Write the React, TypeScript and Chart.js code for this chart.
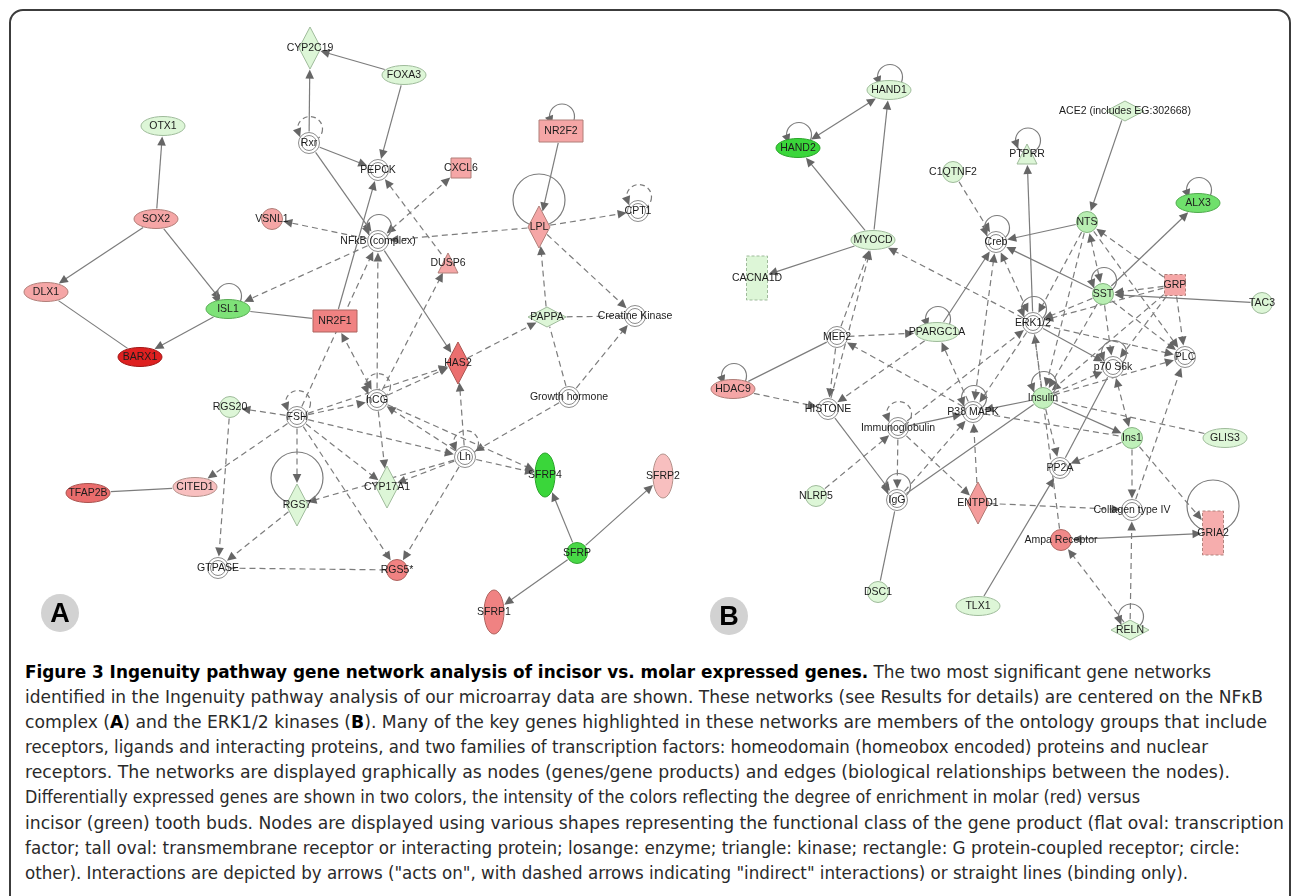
import React, { useEffect, useRef } from "react";
import { Chart, registerables } from "chart.js";

Chart.register(...registerables);

// ---------------- Panel A : network centred on the NFkB complex ----------------
const genesA = ["CYP2C19", "FOXA3", "Rxr", "OTX1", "PEPCK", "CXCL6", "NR2F2", "SOX2", "VSNL1", "NFkB (complex)", "LPL", "CPT1", "DUSP6", "DLX1", "ISL1", "NR2F1", "PAPPA", "Creatine Kinase", "BARX1", "HAS2", "hCG", "Growth hormone", "RGS20", "FSH", "Lh", "SFRP4", "SFRP2", "CYP17A1", "TFAP2B", "CITED1", "RGS7", "GTPASE", "RGS5*", "SFRP", "SFRP1"];
const xA = [310, 404, 309, 163, 378, 461, 561, 156, 272, 378, 539, 638, 448, 46, 228, 335, 547, 635, 140, 458, 377, 569, 230, 297, 465, 545, 663, 387, 88, 195, 297, 218, 397, 577, 494];
const yA = [48, 75, 143, 126, 170, 168, 131, 219, 219, 241, 227, 211, 263, 292, 309, 321, 317, 316, 357, 363, 400, 397, 407, 417, 457, 475, 476, 487, 493, 487, 505, 568, 570, 553, 612];
// functional class: tf = transcription factor, tm = transmembrane receptor, enz = enzyme, pep = peptidase,
// kin = kinase, nr = nuclear receptor, cyt = cytokine, gf = growth factor, ion = ion channel, oth = other
const classA = ["enz", "tf", "oth", "tf", "oth", "cyt", "nr", "tf", "oth", "oth", "enz", "oth", "kin", "tf", "tf", "nr", "pep", "oth", "tf", "enz", "oth", "oth", "oth", "oth", "oth", "tm", "tm", "enz", "tf", "tf", "enz", "oth", "oth", "oth", "tm"];
// enrichment: + molar (red), - incisor (green), 0 not differentially expressed
const exprA = [-1, -1, 0, -1, 0, 2, 2, 2, 2, 0, 2, 0, 2, 2, -3, 3, -1, 0, 5, 3.6, 0, 0, -1, 0, 0, -4, 1.3, -1, 3.7, 1.3, -1, 0, 3, -3.8, 3];
// A = acts on, L = binding, AA = mutual, D = indirect, DL = indirect line, DD = indirect mutual
const edgesA: [string, string, string][] = [
  ["SOX2", "OTX1", "A"], ["SOX2", "DLX1", "A"], ["SOX2", "ISL1", "A"], ["DLX1", "BARX1", "L"],
  ["ISL1", "BARX1", "A"], ["ISL1", "NR2F1", "L"], ["Rxr", "CYP2C19", "A"], ["FOXA3", "CYP2C19", "A"],
  ["FOXA3", "PEPCK", "A"], ["Rxr", "PEPCK", "A"], ["Rxr", "NFkB (complex)", "A"], ["NR2F1", "PEPCK", "A"],
  ["NFkB (complex)", "HAS2", "A"], ["NFkB (complex)", "VSNL1", "D"], ["NFkB (complex)", "ISL1", "D"],
  ["NFkB (complex)", "CXCL6", "DD"], ["DUSP6", "PEPCK", "D"], ["LPL", "NFkB (complex)", "D"],
  ["LPL", "CPT1", "D"], ["NR2F2", "LPL", "A"], ["LPL", "Creatine Kinase", "D"], ["PAPPA", "LPL", "D"],
  ["PAPPA", "Creatine Kinase", "DL"], ["Growth hormone", "Creatine Kinase", "D"], ["Growth hormone", "PAPPA", "DL"],
  ["Growth hormone", "Lh", "D"], ["HAS2", "PAPPA", "D"], ["hCG", "HAS2", "D"], ["FSH", "HAS2", "D"],
  ["hCG", "NFkB (complex)", "D"], ["hCG", "DUSP6", "D"], ["hCG", "NR2F1", "DD"], ["FSH", "NFkB (complex)", "D"],
  ["FSH", "hCG", "D"], ["FSH", "RGS20", "D"], ["FSH", "CITED1", "D"], ["FSH", "RGS7", "D"],
  ["FSH", "CYP17A1", "D"], ["FSH", "Lh", "D"], ["FSH", "RGS5*", "D"], ["RGS20", "GTPASE", "D"],
  ["RGS7", "GTPASE", "D"], ["GTPASE", "RGS5*", "DL"], ["TFAP2B", "CITED1", "L"], ["hCG", "CYP17A1", "D"],
  ["Lh", "hCG", "D"], ["hCG", "SFRP4", "D"], ["Lh", "HAS2", "D"], ["Lh", "CYP17A1", "D"],
  ["Lh", "SFRP4", "D"], ["Lh", "RGS5*", "D"], ["Lh", "RGS7", "D"], ["SFRP", "SFRP4", "A"],
  ["SFRP", "SFRP2", "A"], ["SFRP", "SFRP1", "A"],
];
// self interactions: s = solid, d = dashed, S = solid large
const loopsA: [string, string][] = [
  ["Rxr", "d"], ["CPT1", "d"], ["NFkB (complex)", "s"], ["NR2F2", "s"], ["LPL", "S"], ["ISL1", "s"],
  ["FSH", "d"], ["hCG", "d"], ["Lh", "d"], ["RGS7", "S"],
];

// ---------------- Panel B : network centred on the ERK1/2 kinases ----------------
const genesB = ["HAND1", "HAND2", "ACE2 (includes EG:302668)", "PTPRR", "C1QTNF2", "ALX3", "NTS", "Creb", "MYOCD", "CACNA1D", "GRP", "SST", "TAC3", "ERK1/2", "PPARGC1A", "MEF2", "p70 S6k", "PLC", "HDAC9", "HISTONE", "Insulin", "P38 MAPK", "Immunoglobulin", "Ins1", "GLIS3", "PP2A", "NLRP5", "IgG", "ENTPD1", "Collagen type IV", "GRIA2", "Ampa Receptor", "DSC1", "TLX1", "RELN"];
const xB = [889, 798, 1125, 1027, 953, 1198, 1087, 996, 873, 757, 1175, 1103, 1262, 1033, 937, 837, 1113, 1185, 733, 828, 1043, 973, 898, 1132, 1225, 1060, 816, 897, 978, 1132, 1213, 1061, 878, 978, 1130];
const yB = [90, 148, 111, 154, 172, 203, 222, 242, 240, 278, 285, 294, 303, 323, 332, 337, 367, 357, 389, 409, 398, 412, 428, 438, 438, 468, 496, 500, 503, 510, 533, 540, 592, 606, 630];
const classB = ["tf", "tf", "pep", "kin", "oth", "tf", "oth", "oth", "tf", "ion", "gf", "oth", "oth", "oth", "tf", "oth", "oth", "oth", "tf", "oth", "oth", "oth", "oth", "oth", "tf", "oth", "oth", "oth", "enz", "oth", "ion", "oth", "oth", "tf", "pep"];
const exprB = [-1, -4, -1, -1, -1, -3.2, -2, 0, -1, -1, 2, -2, -1, 0, -1, 0, 0, 0, 2, 0, -1.7, 0, 0, -1.8, -1, 0, -1, 0, 2.3, 0, 1.8, 2.8, -1, -1, -1];
const edgesB: [string, string, string][] = [
  ["MYOCD", "HAND2", "A"], ["MYOCD", "HAND1", "A"], ["HAND2", "HAND1", "AA"], ["MYOCD", "CACNA1D", "A"],
  ["ERK1/2", "MYOCD", "D"], ["MEF2", "MYOCD", "D"], ["HISTONE", "MYOCD", "D"], ["C1QTNF2", "Creb", "D"],
  ["PPARGC1A", "Creb", "A"], ["NTS", "Creb", "A"], ["SST", "Creb", "A"], ["ACE2 (includes EG:302668)", "NTS", "A"],
  ["SST", "ALX3", "A"], ["ERK1/2", "PTPRR", "A"], ["SST", "NTS", "DD"], ["GRP", "NTS", "D"],
  ["GRP", "SST", "D"], ["TAC3", "SST", "A"], ["NTS", "ERK1/2", "D"], ["SST", "ERK1/2", "D"],
  ["GRP", "ERK1/2", "D"], ["Creb", "ERK1/2", "DD"], ["ERK1/2", "p70 S6k", "A"], ["ERK1/2", "PLC", "D"],
  ["P38 MAPK", "PPARGC1A", "D"], ["MEF2", "PPARGC1A", "D"], ["P38 MAPK", "MEF2", "D"], ["MEF2", "HISTONE", "D"],
  ["PPARGC1A", "HISTONE", "D"], ["HDAC9", "MEF2", "L"], ["HDAC9", "HISTONE", "D"], ["HISTONE", "IgG", "A"],
  ["Immunoglobulin", "P38 MAPK", "A"], ["Immunoglobulin", "IgG", "D"], ["Immunoglobulin", "ENTPD1", "D"],
  ["NLRP5", "Immunoglobulin", "D"], ["IgG", "P38 MAPK", "D"], ["IgG", "Insulin", "L"], ["DSC1", "IgG", "L"],
  ["ENTPD1", "P38 MAPK", "D"], ["ENTPD1", "Collagen type IV", "D"], ["Insulin", "P38 MAPK", "A"],
  ["Insulin", "ERK1/2", "D"], ["Insulin", "PP2A", "D"], ["Insulin", "Ins1", "A"], ["Insulin", "PLC", "D"],
  ["Insulin", "p70 S6k", "D"], ["Ins1", "PP2A", "D"], ["Ins1", "Collagen type IV", "D"], ["Ins1", "GRIA2", "D"],
  ["GLIS3", "Insulin", "DL"], ["P38 MAPK", "Ins1", "DL"], ["p70 S6k", "Ins1", "DD"], ["Collagen type IV", "PLC", "D"],
  ["RELN", "Collagen type IV", "D"], ["RELN", "Ampa Receptor", "D"], ["Ampa Receptor", "GRIA2", "AA"],
  ["TLX1", "PP2A", "A"], ["PP2A", "p70 S6k", "L"], ["ERK1/2", "Ampa Receptor", "DL"], ["Creb", "P38 MAPK", "DD"],
  ["ERK1/2", "P38 MAPK", "D"], ["Immunoglobulin", "ERK1/2", "D"], ["SST", "p70 S6k", "D"], ["SST", "Insulin", "D"],
  ["SST", "PLC", "D"], ["NTS", "Insulin", "D"], ["NTS", "PLC", "D"], ["GRP", "PLC", "D"], ["GRP", "Insulin", "D"],
  ["GRP", "p70 S6k", "D"],
];
const loopsB: [string, string][] = [
  ["HAND1", "s"], ["HAND2", "s"], ["ALX3", "s"], ["PTPRR", "s"], ["Creb", "s"], ["SST", "s"], ["ERK1/2", "s"],
  ["PPARGC1A", "s"], ["p70 S6k", "s"], ["HDAC9", "s"], ["Insulin", "s"], ["P38 MAPK", "s"],
  ["Immunoglobulin", "d"], ["IgG", "s"], ["GRIA2", "S"], ["RELN", "s"],
];

const panelLetters = ["A", "B"];

const captionLines: [string, boolean][][] = [
  [["Figure 3 Ingenuity pathway gene network analysis of incisor vs. molar expressed genes.", true], [" The two most significant gene networks", false]],
  [["identified in the Ingenuity pathway analysis of our microarray data are shown. These networks (see Results for details) are centered on the NF\u03baB", false]],
  [["complex (", false], ["A", true], [") and the ERK1/2 kinases (", false], ["B", true], ["). Many of the key genes highlighted in these networks are members of the ontology groups that include", false]],
  [["receptors, ligands and interacting proteins, and two families of transcription factors: homeodomain (homeobox encoded) proteins and nuclear", false]],
  [["receptors. The networks are displayed graphically as nodes (genes/gene products) and edges (biological relationships between the nodes).", false]],
  [["Differentially expressed genes are shown in two colors, the intensity of the colors reflecting the degree of enrichment in molar (red) versus", false]],
  [["incisor (green) tooth buds. Nodes are displayed using various shapes representing the functional class of the gene product (flat oval: transcription", false]],
  [["factor; tall oval: transmembrane receptor or interacting protein; losange: enzyme; triangle: kinase; rectangle: G protein-coupled receptor; circle:", false]],
  [["other). Interactions are depicted by arrows (\"acts on\", with dashed arrows indicating \"indirect\" interactions) or straight lines (binding only).", false]],
];
const captionRight = [1211, 1263, 1267, 1208, 1230, 1140, 1284, 1240, 1188];

// ---------------- drawing helpers ----------------
type Geom = { kind: string; a: number; b: number; dashed?: boolean };
function geomFor(cls: string): Geom {
  switch (cls) {
    case "tf": return { kind: "ellipse", a: 22, b: 9.5 };
    case "tm": return { kind: "ellipse", a: 10, b: 22 };
    case "enz": return { kind: "diamond", a: 11, b: 21 };
    case "pep": return { kind: "diamond", a: 19, b: 10 };
    case "kin": return { kind: "triangle", a: 10, b: 10 };
    case "nr": return { kind: "rect", a: 22, b: 11 };
    case "cyt": return { kind: "rect", a: 10, b: 10 };
    case "gf": return { kind: "rect", a: 10.5, b: 10.5, dashed: true };
    case "ion": return { kind: "rect", a: 10.5, b: 22, dashed: true };
    default: return { kind: "circle", a: 10.5, b: 10.5 };
  }
}

const RED = [[255, 255, 255], [249, 202, 202], [245, 166, 166], [240, 130, 130], [232, 98, 98], [222, 32, 32]];
const GREEN = [[255, 255, 255], [221, 246, 215], [184, 238, 178], [126, 226, 120], [58, 214, 58]];
function exprRGB(v: number): number[] {
  if (v === 0) return [255, 255, 255];
  const stops = v > 0 ? RED : GREEN;
  const t = Math.min(Math.abs(v), stops.length - 1);
  const i = Math.floor(t);
  const f = t - i;
  const c0 = stops[i];
  const c1 = stops[Math.min(i + 1, stops.length - 1)];
  return [0, 1, 2].map((k) => Math.round(c0[k] + (c1[k] - c0[k]) * f));
}

function boundary(g: Geom, ux: number, uy: number): number {
  const ax = Math.abs(ux), ay = Math.abs(uy);
  if (g.kind === "ellipse") return 1 / Math.sqrt((ux / g.a) ** 2 + (uy / g.b) ** 2);
  if (g.kind === "rect") return Math.min(ax > 1e-6 ? g.a / ax : 1e9, ay > 1e-6 ? g.b / ay : 1e9);
  if (g.kind === "diamond") return 1 / (ax / g.a + ay / g.b);
  return g.a;
}

const EDGE = "#7c7c7c";
const HEAD = "#666666";

function arrowHead(ctx: CanvasRenderingContext2D, tx: number, ty: number, ux: number, uy: number) {
  const L = 9, W = 4.3;
  const bx = tx - ux * L, by = ty - uy * L;
  ctx.save();
  ctx.setLineDash([]);
  ctx.fillStyle = HEAD;
  ctx.beginPath();
  ctx.moveTo(tx, ty);
  ctx.lineTo(bx - uy * W, by + ux * W);
  ctx.lineTo(bx + uy * W, by - ux * W);
  ctx.closePath();
  ctx.fill();
  ctx.restore();
}

type NodePos = { x: number; y: number; g: Geom; v: number };

function drawEdge(ctx: CanvasRenderingContext2D, p: NodePos, q: NodePos, kind: string) {
  const dx = q.x - p.x, dy = q.y - p.y;
  const d = Math.hypot(dx, dy);
  if (d < 1) return;
  const ux = dx / d, uy = dy / d;
  const t1 = boundary(p.g, ux, uy) + 1;
  const t2 = boundary(q.g, -ux, -uy) + 1;
  const dashed = kind.startsWith("D");
  const headEnd = kind === "A" || kind === "AA" || kind === "D" || kind === "DD";
  const headStart = kind === "AA" || kind === "DD";
  const sx = p.x + ux * t1, sy = p.y + uy * t1;
  const ex = q.x - ux * t2, ey = q.y - uy * t2;
  ctx.save();
  ctx.strokeStyle = EDGE;
  ctx.lineWidth = 1.2;
  ctx.setLineDash(dashed ? [6, 4] : []);
  ctx.beginPath();
  ctx.moveTo(headStart ? sx + ux * 7 : sx, headStart ? sy + uy * 7 : sy);
  ctx.lineTo(headEnd ? ex - ux * 7 : ex, headEnd ? ey - uy * 7 : ey);
  ctx.stroke();
  ctx.restore();
  if (headEnd) arrowHead(ctx, ex, ey, ux, uy);
  if (headStart) arrowHead(ctx, sx, sy, -ux, -uy);
}

function drawLoop(ctx: CanvasRenderingContext2D, p: NodePos, style: string) {
  const big = style === "S";
  const r = big ? 26 : 12.5;
  const cx = p.x + (big ? 0 : 1);
  const cy = big ? p.y - 27 : p.y - p.g.b - 3.5;
  ctx.save();
  ctx.strokeStyle = EDGE;
  ctx.lineWidth = 1.2;
  ctx.setLineDash(style === "d" ? [5, 3.5] : []);
  ctx.beginPath();
  ctx.arc(cx, cy, r, 0, Math.PI * 2);
  ctx.stroke();
  ctx.restore();
  if (!big) {
    const a = (150 * Math.PI) / 180;
    arrowHead(ctx, cx + r * Math.cos(a) + 1, cy + r * Math.sin(a) + 2, 0.35, 0.94);
  }
}

function drawNode(ctx: CanvasRenderingContext2D, p: NodePos) {
  const { g, x, y, v } = p;
  const c = exprRGB(v);
  const fill = `rgb(${c[0]},${c[1]},${c[2]})`;
  const stroke = v === 0 ? "#8c8c8c" : `rgb(${Math.round(c[0] * 0.72)},${Math.round(c[1] * 0.76)},${Math.round(c[2] * 0.72)})`;
  ctx.save();
  ctx.fillStyle = fill;
  ctx.strokeStyle = stroke;
  ctx.lineWidth = 1;
  ctx.setLineDash(g.dashed ? [3, 2] : []);
  ctx.beginPath();
  if (g.kind === "ellipse") ctx.ellipse(x, y, g.a, g.b, 0, 0, Math.PI * 2);
  else if (g.kind === "rect") ctx.rect(x - g.a, y - g.b, g.a * 2, g.b * 2);
  else if (g.kind === "diamond") {
    ctx.moveTo(x, y - g.b); ctx.lineTo(x + g.a, y); ctx.lineTo(x, y + g.b); ctx.lineTo(x - g.a, y); ctx.closePath();
  } else if (g.kind === "triangle") {
    ctx.moveTo(x, y - g.b); ctx.lineTo(x + g.a, y + g.b); ctx.lineTo(x - g.a, y + g.b); ctx.closePath();
  } else ctx.arc(x, y, g.a, 0, Math.PI * 2);
  ctx.fill();
  ctx.stroke();
  if (g.kind === "circle" && v === 0) {
    ctx.beginPath();
    ctx.arc(x, y, g.a - 3, 0, Math.PI * 2);
    ctx.stroke();
  }
  ctx.restore();
}

const panels = [
  { genes: genesA, cls: classA, expr: exprA, edges: edgesA, loops: loopsA },
  { genes: genesB, cls: classB, expr: exprB, edges: edgesB, loops: loopsB },
];

const networkPlugin = {
  id: "network",
  afterDatasetsDraw(chart: any) {
    const ctx: CanvasRenderingContext2D = chart.ctx;
    const maps: Record<string, NodePos>[] = panels.map((panel, di) => {
      const meta = chart.getDatasetMeta(di);
      const m: Record<string, NodePos> = {};
      panel.genes.forEach((name, i) => {
        const el = meta.data[i];
        m[name] = { x: el.x, y: el.y, g: geomFor(panel.cls[i]), v: panel.expr[i] };
      });
      return m;
    });
    panels.forEach((panel, di) => {
      const m = maps[di];
      panel.edges.forEach(([a, b, k]) => { if (m[a] && m[b]) drawEdge(ctx, m[a], m[b], k); });
      panel.loops.forEach(([a, s]) => { if (m[a]) drawLoop(ctx, m[a], s); });
    });
    panels.forEach((panel, di) => {
      panel.genes.forEach((name) => drawNode(ctx, maps[di][name]));
    });
    ctx.save();
    ctx.font = "10.5px 'Liberation Sans', Arial, sans-serif";
    ctx.fillStyle = "#1c1c1c";
    ctx.textAlign = "center";
    ctx.textBaseline = "middle";
    panels.forEach((panel, di) => {
      panel.genes.forEach((name) => {
        const p = maps[di][name];
        ctx.fillText(name, p.x, p.y + 0.5);
      });
    });
    ctx.restore();
  },
};

export default function App() {
  const canvasRef = useRef<HTMLCanvasElement | null>(null);
  const lineRefs = useRef<(HTMLDivElement | null)[]>([]);

  useEffect(() => {
    if (!canvasRef.current) return;
    const chart = new Chart(canvasRef.current, {
      type: "scatter",
      data: {
        datasets: panels.map((panel, di) => ({
          label: panelLetters[di],
          data: panel.genes.map((_, i) => ({ x: di === 0 ? xA[i] : xB[i], y: di === 0 ? yA[i] : yB[i] })),
          pointRadius: 0,
          pointHoverRadius: 0,
          showLine: false,
        })),
      },
      options: {
        responsive: false,
        animation: false,
        events: [],
        layout: { padding: 0 },
        plugins: { legend: { display: false }, tooltip: { enabled: false } },
        scales: {
          x: { type: "linear", min: 0, max: 1292, display: false },
          y: { type: "linear", min: 0, max: 650, reverse: true, display: false },
        },
      },
      plugins: [networkPlugin],
    });
    return () => chart.destroy();
  }, []);

  useEffect(() => {
    const fit = () => {
      lineRefs.current.forEach((el, i) => {
        if (!el) return;
        el.style.transform = "none";
        const w = el.getBoundingClientRect().width;
        const target = captionRight[i] - 25;
        if (w > 0) el.style.transform = `scaleX(${target / w})`;
      });
    };
    fit();
    if ((document as any).fonts && (document as any).fonts.ready) (document as any).fonts.ready.then(fit);
  }, []);

  return (
    <div style={{ position: "absolute", left: 0, top: 0, width: 1292, height: 896, overflow: "hidden", background: "#fff" }}>
      <div style={{ position: "absolute", left: 9, top: 9, width: 1282, height: 1000, border: "2px solid #3c3c3c", borderRadius: 14, boxSizing: "border-box" }} />
      <canvas ref={canvasRef} width={1292} height={650} style={{ position: "absolute", left: 0, top: 0 }} />
      {panelLetters.map((L, i) => (
        <div key={L} style={{ position: "absolute", left: i === 0 ? 41 : 710, top: i === 0 ? 594 : 597, width: 38, height: 38, borderRadius: 19, background: "#d2d2d2", display: "flex", alignItems: "center", justifyContent: "center", font: "bold 27px 'Liberation Sans', Arial, sans-serif", color: "#000" }}>{L}</div>
      ))}
      <div style={{ position: "absolute", left: 25, top: 660 }}>
        {captionLines.map((segs, i) => (
          <div key={i} ref={(el) => { lineRefs.current[i] = el; }} style={{ whiteSpace: "nowrap", height: 25.1, lineHeight: "25px", fontSize: 17, fontFamily: "'Liberation Sans Narrow', 'DejaVu Sans Condensed', Roboto, sans-serif", color: "#2a2a2a", transformOrigin: "left center", width: "max-content" }}>
            {segs.map(([t, b], j) => (
              <span key={j} style={{ fontWeight: b ? 700 : 400, color: b ? "#000" : "#2a2a2a" }}>{t}</span>
            ))}
          </div>
        ))}
      </div>
    </div>
  );
}
